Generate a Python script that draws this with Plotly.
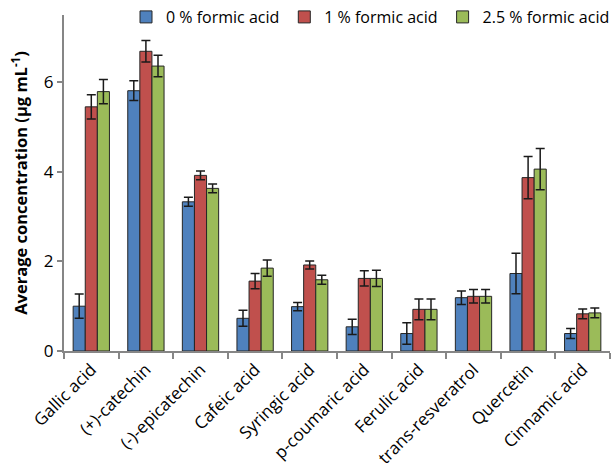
import plotly.graph_objects as go

compounds = ["Gallic acid", "(+)-catechin", "(-)-epicatechin", "Cafeic acid",
             "Syringic acid", "p-coumaric acid", "Ferulic acid",
             "trans-resveratrol", "Quercetin", "Cinnamic acid"]

series_names = ["0 % formic acid", "1 % formic acid", "2.5 % formic acid"]

fa0 = [1.00, 5.81, 3.33, 0.73, 0.99, 0.54, 0.39, 1.19, 1.73, 0.39]
fa0_err = [0.27, 0.22, 0.10, 0.18, 0.09, 0.17, 0.24, 0.15, 0.45, 0.11]

fa1 = [5.45, 6.69, 3.92, 1.56, 1.92, 1.62, 0.93, 1.22, 3.87, 0.83]
fa1_err = [0.27, 0.24, 0.10, 0.17, 0.09, 0.17, 0.23, 0.15, 0.47, 0.11]

fa25 = [5.79, 6.36, 3.63, 1.85, 1.59, 1.62, 0.93, 1.22, 4.06, 0.85]
fa25_err = [0.27, 0.24, 0.10, 0.18, 0.10, 0.18, 0.23, 0.15, 0.46, 0.11]

colors = ["#4F81BD", "#C0504D", "#9BBB59"]

FONT = "'Open Sans', 'Noto Sans', sans-serif"

fig = go.Figure()
for name, vals, errs, col in zip(series_names, [fa0, fa1, fa25],
                                 [fa0_err, fa1_err, fa25_err], colors):
    fig.add_trace(go.Bar(
        x=compounds, y=vals, name=name,
        marker=dict(color=col, line=dict(color="#262626", width=1)),
        error_y=dict(type="data", array=errs, visible=True,
                     color="#1a1a1a", thickness=1.5, width=4.5),
    ))

fig.update_layout(
    width=615, height=468,
    margin=dict(l=64, r=0, t=13, b=117),
    barmode="group", bargap=0.335, bargroupgap=0,
    plot_bgcolor="white", paper_bgcolor="white",
    font=dict(family=FONT, size=16, color="#000000"),
    showlegend=True,
    legend=dict(orientation="h", x=1.01, xanchor="right", y=1.045, yanchor="top",
                font=dict(size=16), itemwidth=30, traceorder="normal",
                bgcolor="rgba(0,0,0,0)"),
)

fig.update_xaxes(
    type="category", range=[-0.5, 9.5],
    showline=True, linecolor="#868686", linewidth=2,
    ticks="outside", tickson="boundaries", ticklen=6, tickcolor="#868686",
    tickwidth=2, tickangle=-45, showgrid=False,
    tickfont=dict(size=17),
)

fig.update_yaxes(
    range=[0, 7.5], tickvals=[0, 2, 4, 6],
    showline=True, linecolor="#868686", linewidth=2,
    ticks="outside", ticklen=5, tickcolor="#868686", tickwidth=2,
    showgrid=False, zeroline=False,
    tickfont=dict(size=17),
    title=dict(text="<b>Average concentration (µg mL<sup>-1</sup>)</b>",
               font=dict(size=16.5), standoff=12),
)

fig.write_html("out.html")
